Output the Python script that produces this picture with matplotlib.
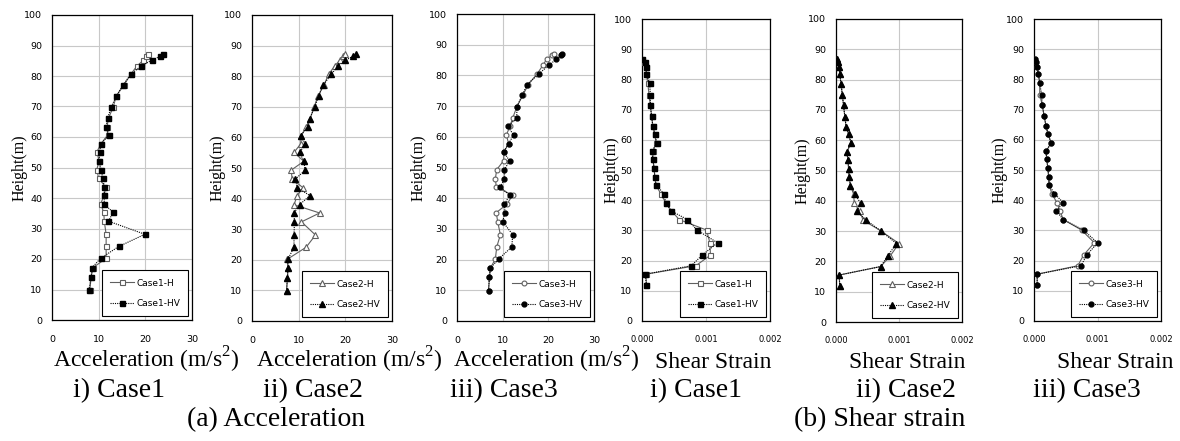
import matplotlib.pyplot as plt
import numpy as np

plt.rcParams['font.family'] = 'DejaVu Sans'
plt.rcParams['mathtext.fontset'] = 'custom'
plt.rcParams['mathtext.rm'] = 'Liberation Serif'
SERIF = 'Liberation Serif'

W, H = 1180, 441

# heights of the recorded points (m)
acc_height = [9.8, 14.2, 17.2, 20.2, 24.1, 28.1, 32.4, 35.3, 38.0, 41.0, 43.6, 46.4, 49.3, 52.2,
              55.1, 57.8, 60.6, 63.4, 66.1, 69.8, 73.5, 77.0, 80.6, 83.3, 85.2, 86.5, 87.1]
strain_height = [11.8, 15.5, 18.3, 21.8, 25.9, 30.1, 33.6, 36.5, 39.2, 42.2, 45.0, 47.7, 50.5,
                 53.5, 56.2, 59.0, 61.9, 64.5, 67.8, 71.5, 75.0, 78.7, 81.7, 84.1, 85.7, 86.7]

# peak acceleration (m/s2)
acc1_h = [8.1, 8.4, 8.8, 11.6, 11.6, 11.6, 11.2, 11.1, 10.4, 11.2, 11.5, 10.0, 9.6, 10.1,
          9.6, 10.5, 11.9, 11.8, 12.1, 13.1, 13.8, 15.4, 16.9, 18.2, 19.6, 20.2, 20.6]
acc1_hv = [7.9, 8.4, 8.6, 10.4, 14.3, 19.9, 12.1, 13.1, 11.2, 11.2, 11.2, 10.9, 10.5, 10.1,
           10.2, 10.5, 12.2, 11.6, 11.9, 12.7, 13.8, 15.2, 16.9, 19.1, 21.4, 23.2, 23.7]
acc2_h = [7.4, 7.6, 7.7, 7.6, 11.6, 13.6, 10.6, 14.5, 9.0, 9.7, 10.9, 8.6, 8.4, 11.1,
          9.0, 10.4, 10.6, 11.6, 12.4, 13.3, 14.1, 15.4, 16.4, 17.7, 18.8, 19.5, 19.9]
acc2_hv = [7.4, 7.6, 7.7, 7.7, 9.0, 9.0, 9.1, 9.0, 10.2, 12.4, 9.7, 9.3, 11.4, 11.1,
           10.2, 11.4, 10.4, 11.9, 12.4, 13.4, 14.3, 15.2, 17.0, 18.4, 20.0, 21.6, 22.2]
acc3_h = [6.9, 7.1, 7.3, 8.4, 8.7, 9.5, 8.9, 8.6, 10.9, 12.2, 8.6, 8.4, 8.7, 10.2,
          10.3, 11.3, 10.8, 11.6, 12.2, 13.1, 14.4, 15.6, 17.6, 18.8, 19.6, 20.7, 21.3]
acc3_hv = [6.9, 7.1, 7.3, 9.1, 12.0, 12.2, 10.0, 10.5, 10.4, 11.5, 9.5, 10.4, 10.4, 11.5,
           10.2, 11.3, 12.4, 11.1, 13.1, 13.1, 14.3, 15.3, 18.0, 20.1, 21.7, 22.7, 23.0]

# peak shear strain (x 1e-3)
str1_h = [0.07, 0.06, 0.84, 1.07, 1.06, 1.01, 0.58, 0.46, 0.37, 0.29, 0.22, 0.20, 0.19,
          0.17, 0.17, 0.22, 0.20, 0.17, 0.15, 0.13, 0.11, 0.09, 0.07, 0.06, 0.03, 0.00]
str1_hv = [0.07, 0.05, 0.77, 0.94, 1.18, 0.86, 0.71, 0.45, 0.37, 0.34, 0.22, 0.20, 0.19,
           0.17, 0.16, 0.23, 0.20, 0.17, 0.15, 0.13, 0.13, 0.12, 0.07, 0.06, 0.04, 0.00]
str2_h = [0.06, 0.05, 0.71, 0.86, 1.00, 0.71, 0.43, 0.38, 0.29, 0.28, 0.23, 0.21, 0.20,
          0.19, 0.17, 0.24, 0.20, 0.16, 0.14, 0.12, 0.10, 0.08, 0.06, 0.05, 0.03, 0.02]
str2_hv = [0.06, 0.05, 0.71, 0.82, 0.96, 0.71, 0.48, 0.33, 0.39, 0.30, 0.23, 0.21, 0.20,
           0.19, 0.17, 0.24, 0.20, 0.16, 0.14, 0.12, 0.10, 0.08, 0.06, 0.05, 0.03, 0.02]
str3_h = [0.05, 0.05, 0.69, 0.78, 0.95, 0.75, 0.46, 0.41, 0.36, 0.28, 0.24, 0.23, 0.22,
          0.20, 0.19, 0.27, 0.22, 0.19, 0.16, 0.13, 0.09, 0.09, 0.07, 0.05, 0.03, 0.01]
str3_hv = [0.05, 0.05, 0.74, 0.83, 1.00, 0.78, 0.46, 0.35, 0.46, 0.32, 0.24, 0.23, 0.22,
           0.20, 0.19, 0.27, 0.22, 0.19, 0.16, 0.13, 0.12, 0.09, 0.07, 0.05, 0.03, 0.01]

cases = ['Case1', 'Case2', 'Case3']
markers = ['s', '^', 'o']
acc_ticks = [0, 10, 20, 30]
str_ticks = [0.000, 0.001, 0.002]

# axes boxes in pixels: left, top, right, bottom
boxes = [(52, 15, 192, 320), (252, 15, 392, 321), (457, 14, 594, 321),
         (642, 19, 770, 321), (836, 19, 962, 322), (1034, 19, 1161, 321)]
ylab_x = [20, 218, 419, 612, 803, 1000]

panels = [
    (acc_height, acc1_h, acc1_hv, 1.0),
    (acc_height, acc2_h, acc2_hv, 1.0),
    (acc_height, acc3_h, acc3_hv, 1.0),
    (strain_height, str1_h, str1_hv, 1e-3),
    (strain_height, str2_h, str2_hv, 1e-3),
    (strain_height, str3_h, str3_hv, 1e-3),
]

fig = plt.figure(figsize=(W / 100, H / 100), dpi=100)

for i, (hgt, vh, vhv, scale) in enumerate(panels):
    l, t, r, b = boxes[i]
    ax = fig.add_axes([l / W, 1 - b / H, (r - l) / W, (b - t) / H])
    case = cases[i % 3]
    mk = markers[i % 3]
    ms = 3.6 if mk == 's' else (3.5 if mk == 'o' else 3.8)
    ax.plot(np.array(vh) * scale, hgt, color='#606060', lw=0.8, marker=mk, ms=ms,
            mfc='white', mec='#606060', mew=0.8, label=case + '-H', zorder=3)
    ax.plot(np.array(vhv) * scale, hgt, color='black', lw=0.8, ls=(0, (1, 1)), marker=mk,
            ms=ms, mfc='black', mec='black', label=case + '-HV', zorder=4)

    ax.set_ylim(0, 100)
    ax.set_yticks(range(0, 101, 10))
    if i < 3:
        ax.set_xlim(0, 30)
        ax.set_xticks(acc_ticks)
        ax.set_xticklabels([str(v) for v in acc_ticks])
        fsz = 6.8
        xpad = 11
    else:
        ax.set_xlim(0, 0.002)
        ax.set_xticks(str_ticks)
        ax.set_xticklabels(['%.3f' % v for v in str_ticks])
        fsz = 6.0
        xpad = 10
    ax.tick_params(axis='both', length=0, labelsize=fsz)
    ax.tick_params(axis='x', pad=xpad)
    ax.tick_params(axis='y', pad=7, labelsize=6.8)
    ax.grid(True, color='#c8c8c8', lw=0.8, zorder=0)
    ax.set_axisbelow(True)
    for s in ax.spines.values():
        s.set_color('black')
        s.set_linewidth(0.9)

    leg = ax.legend(loc='lower right', fontsize=6.5, frameon=True, fancybox=False,
                    edgecolor='black', framealpha=1, handlelength=2.6, labelspacing=1.3,
                    borderpad=0.9, borderaxespad=0.4, handletextpad=0.3)
    leg.get_frame().set_linewidth(0.8)

    fig.text(ylab_x[i] / W, 1 - ((t + b) / 2) / H, 'Height(m)', family=SERIF, fontsize=11.5,
             rotation=90, ha='center', va='center')

# captions under each panel
xlabel_x = [146, 349, 546, 713, 907, 1115]
case_x = [119, 313, 504, 696, 906, 1087]
roman = ['i) Case1', 'ii) Case2', 'iii) Case3']
for i in range(6):
    lab = 'Acceleration (m/s$^{2}$)' if i < 3 else 'Shear Strain'
    fig.text(xlabel_x[i] / W, 1 - 368 / H, lab, family=SERIF, fontsize=17,
             ha='center', va='baseline')
    fig.text(case_x[i] / W, 1 - 397 / H, roman[i % 3], family=SERIF, fontsize=20,
             ha='center', va='baseline')

fig.text(276 / W, 1 - 426 / H, '(a) Acceleration', family=SERIF, fontsize=20,
         ha='center', va='baseline')
fig.text(880 / W, 1 - 426 / H, '(b) Shear strain', family=SERIF, fontsize=20,
         ha='center', va='baseline')

fig.savefig('out.png', dpi=100)
